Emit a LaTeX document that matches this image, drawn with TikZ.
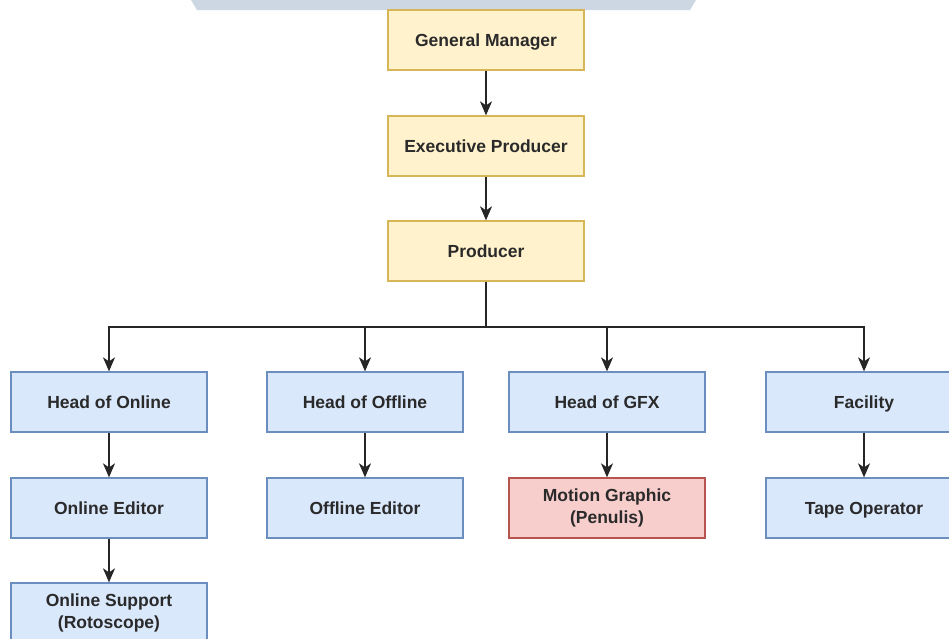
\documentclass[tikz,border=0pt]{standalone}
\usepackage{fontspec}
\setmainfont{Liberation Sans}
\usetikzlibrary{arrows.meta}
\definecolor{yfill}{HTML}{FFF2CC}
\definecolor{ydraw}{HTML}{D6B656}
\definecolor{bfill}{HTML}{DAE8FC}
\definecolor{bdraw}{HTML}{6C8EBF}
\definecolor{rfill}{HTML}{F8CECC}
\definecolor{rdraw}{HTML}{B85450}
\definecolor{banner}{HTML}{CDD7E3}
\definecolor{txt}{HTML}{2A2A2A}
\tikzset{
  box/.style={rectangle, minimum width=196pt, minimum height=60pt, inner sep=0pt,
    line width=1.3pt, align=center, text=txt,
    font=\bfseries\fontsize{17.5}{21.5}\selectfont},
  ybox/.style={box, fill=yfill, draw=ydraw},
  bbox/.style={box, fill=bfill, draw=bdraw},
  rbox/.style={box, fill=rfill, draw=rdraw},
  onel/.style={text height=14pt, text depth=2pt},
  arr/.style={line width=1.4pt, draw=black!85, -{Stealth[length=14pt,width=12pt,inset=4pt]}},
  conn/.style={line width=1.4pt, draw=black!85}
}
\begin{document}
\begin{tikzpicture}[x=1pt,y=1pt]
\useasboundingbox (0,0) rectangle (949,-638);
\clip (0,0) rectangle (949,-638);
\fill[banner] (191,0) -- (696,0) -- (690,-10) -- (197,-10) -- cycle;
\node[ybox,onel] (gm) at (486,-40) {General Manager};
\node[ybox,onel] (ep) at (486,-146) {Executive Producer};
\node[ybox,onel] (pr) at (486,-251) {Producer};
\node[bbox,onel] (hon) at (109,-402) {Head of Online};
\node[bbox,onel] (hof) at (365,-402) {Head of Offline};
\node[bbox,onel] (hgfx) at (607,-402) {Head of GFX};
\node[bbox,onel] (fac) at (864,-402) {Facility};
\node[bbox,onel] (oned) at (109,-508) {Online Editor};
\node[bbox,onel] (ofed) at (365,-508) {Offline Editor};
\node[rbox] (mg) at (607,-508) {Motion Graphic\\(Penulis)};
\node[bbox,onel] (tape) at (864,-508) {Tape Operator};
\node[bbox] (osup) at (109,-613) {Online Support\\(Rotoscope)};
\coordinate (bus) at (486,-327);
\draw[arr] (gm) -- (ep);
\draw[arr] (ep) -- (pr);
\draw[conn] (pr) -- (bus);
\draw[arr] (bus) -| (hon);
\draw[arr] (bus) -| (hof);
\draw[arr] (bus) -| (hgfx);
\draw[arr] (bus) -| (fac);
\draw[arr] (hon) -- (oned);
\draw[arr] (oned) -- (osup);
\draw[arr] (hof) -- (ofed);
\draw[arr] (hgfx) -- (mg);
\draw[arr] (fac) -- (tape);
\end{tikzpicture}
\end{document}
